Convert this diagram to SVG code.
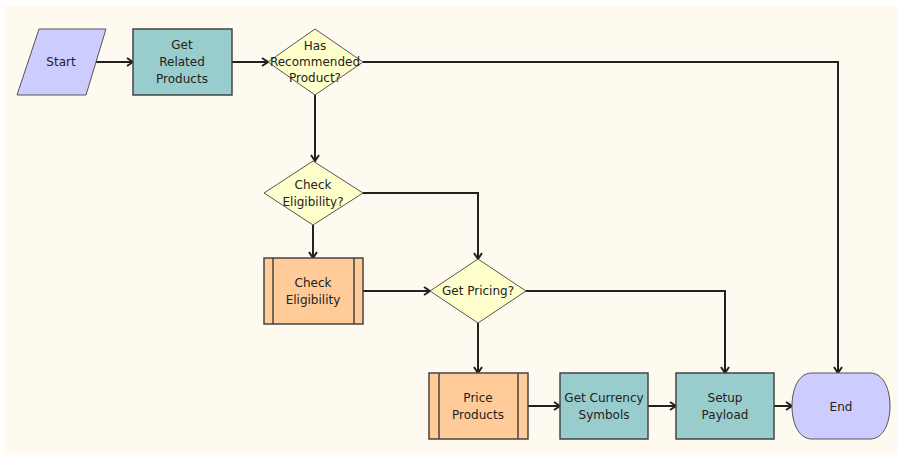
<svg xmlns="http://www.w3.org/2000/svg" width="898" height="456" viewBox="0 0 898 456">
<defs>
<marker id="arr" viewBox="0 0 10 10" refX="9" refY="5" markerWidth="10" markerHeight="10" markerUnits="userSpaceOnUse" orient="auto">
<path d="M3,1 L9,5 L3,9" fill="none" stroke="#222" stroke-width="2"/>
</marker>
<style>
.bg{fill:#fefaf0}
.proc{fill:#99cccc;stroke:#444;stroke-width:1.5}
.dec{fill:#ffffcc;stroke:#555;stroke-width:1}
.term{fill:#ccccff;stroke:#555;stroke-width:1}
.sub{fill:#ffcc99;stroke:#444;stroke-width:1.5}
.in{stroke:#444;stroke-width:1.5}
.c{fill:none;stroke:#222;stroke-width:2;marker-end:url(#arr)}
text{font-family:"DejaVu Sans","Liberation Sans",sans-serif;font-size:12px;fill:#222;text-anchor:middle;dominant-baseline:central}
</style>
</defs>
<rect x="0" y="0" width="898" height="456" fill="#ffffff"/>
<rect class="bg" x="4" y="6" width="893" height="449"/>
<g id="connectors">
<path class="c" d="M95,62 L133,62"/>
<path class="c" d="M232,62 L268,62"/>
<path class="c" d="M363,62 L838,62 L838,373"/>
<path class="c" d="M315,95 L315,161"/>
<path class="c" d="M363,193 L478,193 L478,259"/>
<path class="c" d="M313,225 L313,258"/>
<path class="c" d="M363,291 L430,291"/>
<path class="c" d="M526,291 L725,291 L725,373"/>
<path class="c" d="M478,323 L478,373"/>
<path class="c" d="M528,406 L560,406"/>
<path class="c" d="M648,406 L676,406"/>
<path class="c" d="M774,406 L792,406"/>
</g>
<g id="start">
<polygon class="term" points="39,29 106,29 86,95 17,95"/>
<text x="61" y="62">Start</text>
</g>
<g id="get-related-products">
<rect class="proc" x="133" y="29" width="99" height="66"/>
<text x="182" y="45">Get</text>
<text x="182" y="62">Related</text>
<text x="182" y="79">Products</text>
</g>
<g id="has-recommended-product">
<polygon class="dec" points="315,29 363,62 315,95 268,62"/>
<text x="315" y="46">Has</text>
<text x="315" y="62">Recommended</text>
<text x="315" y="78">Product?</text>
</g>
<g id="check-eligibility-q">
<polygon class="dec" points="313,161 363,193 313,225 264,193"/>
<text x="313" y="185">Check</text>
<text x="313" y="202">Eligibility?</text>
</g>
<g id="check-eligibility">
<rect class="sub" x="264" y="258" width="99" height="66"/>
<line class="in" x1="273" y1="258" x2="273" y2="324"/>
<line class="in" x1="354" y1="258" x2="354" y2="324"/>
<text x="313" y="283">Check</text>
<text x="313" y="300">Eligibility</text>
</g>
<g id="get-pricing">
<polygon class="dec" points="478,259 526,291 478,323 430,291"/>
<text x="478" y="291">Get Pricing?</text>
</g>
<g id="price-products">
<rect class="sub" x="429" y="373" width="99" height="66"/>
<line class="in" x1="439" y1="373" x2="439" y2="439"/>
<line class="in" x1="518" y1="373" x2="518" y2="439"/>
<text x="478" y="398">Price</text>
<text x="478" y="415">Products</text>
</g>
<g id="get-currency-symbols">
<rect class="proc" x="560" y="373" width="88" height="66"/>
<text x="604" y="398">Get Currency</text>
<text x="604" y="415">Symbols</text>
</g>
<g id="setup-payload">
<rect class="proc" x="676" y="373" width="98" height="66"/>
<text x="725" y="398">Setup</text>
<text x="725" y="415">Payload</text>
</g>
<g id="end">
<path class="term" d="M812,373 L870,373 C884,373 890,390 890,406 C890,422 884,439 870,439 L812,439 C798,439 792,422 792,406 C792,390 798,373 812,373 Z"/>
<text x="841" y="407">End</text>
</g>
</svg>
